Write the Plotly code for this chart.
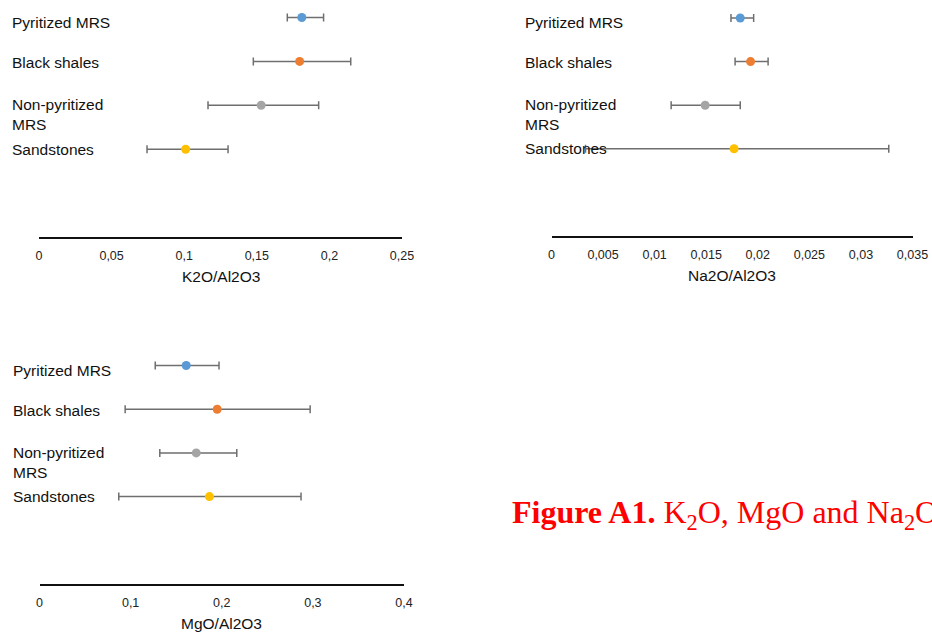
import plotly.graph_objects as go

# ---------------- data ----------------
categories = ["Pyritized MRS", "Black shales", "Non-pyritized MRS", "Sandstones"]
label_text = ["Pyritized MRS", "Black shales", "Non-pyritized<br>MRS", "Sandstones"]
colors = ["#5B9BD5", "#ED7D31", "#A5A5A5", "#FFC000"]

k_mean = [0.181, 0.1795, 0.153, 0.101]
k_low = [0.171, 0.1476, 0.1164, 0.0744]
k_high = [0.196, 0.2147, 0.1926, 0.1302]

na_mean = [0.0183, 0.0193, 0.0149, 0.0177]
na_low = [0.0174, 0.0178, 0.0116, 0.0033]
na_high = [0.0196, 0.0210, 0.0183, 0.0327]

mg_mean = [0.161, 0.195, 0.172, 0.1865]
mg_low = [0.127, 0.094, 0.132, 0.087]
mg_high = [0.197, 0.297, 0.2165, 0.287]

W, H = 932, 632
def px(x):
    return x / W
def py(y):
    return 1 - y / H

FONT = "Liberation Sans, Arial, sans-serif"
rows = {c: len(categories) + 1 - i for i, c in enumerate(categories)}

panels = [
    dict(mean=k_mean, low=k_low, high=k_high, xa="x", ya="y", title="K2O/Al2O3",
         xr=[0, 0.25], dtick=0.05, xd=(39, 402), yd=(237, 0), ppu=43.9, lx=10),
    dict(mean=na_mean, low=na_low, high=na_high, xa="x2", ya="y2", title="Na2O/Al2O3",
         xr=[0, 0.035], dtick=0.005, xd=(551.5, 912.5), yd=(236, 0), ppu=43.6, lx=523),
    dict(mean=mg_mean, low=mg_low, high=mg_high, xa="x3", ya="y3", title="MgO/Al2O3",
         xr=[0, 0.4], dtick=0.1, xd=(39.5, 404), yd=(584, 340), ppu=43.7, lx=11),
]

label_yshift = [-4.5, -1, -9.5, 0]

fig = go.Figure()
annotations = []
layout = {}
for p in panels:
    for i, c in enumerate(categories):
        fig.add_trace(go.Scatter(
            x=[p["mean"][i]], y=[rows[c]], mode="markers",
            marker=dict(color=colors[i], size=9, line=dict(width=0)),
            error_x=dict(type="data", symmetric=False,
                         array=[p["high"][i] - p["mean"][i]],
                         arrayminus=[p["mean"][i] - p["low"][i]],
                         color="#6f6f6f", thickness=1.5, width=4),
            xaxis=p["xa"], yaxis=p["ya"], showlegend=False, hoverinfo="x+y",
        ))
        annotations.append(dict(
            x=px(p["lx"]), xref="paper", xanchor="left",
            y=rows[c], yref=p["ya"], yanchor="middle", yshift=label_yshift[i],
            text=label_text[i], showarrow=False, align="left",
            font=dict(family=FONT, size=15.5, color="#111"),
        ))
    xkey = "xaxis" if p["xa"] == "x" else "xaxis" + p["xa"][1:]
    ykey = "yaxis" if p["ya"] == "y" else "yaxis" + p["ya"][1:]
    eps = (p["xr"][1] - p["xr"][0]) * 1e-6
    layout[xkey] = dict(
        domain=[px(p["xd"][0]), px(p["xd"][1])], anchor=p["ya"], automargin=False,
        range=[p["xr"][0] - eps, p["xr"][1] + eps], dtick=p["dtick"], tick0=0,
        showline=True, linecolor="#111", linewidth=1.6, showgrid=False, zeroline=False,
        ticks="", ticklabelstandoff=6,
        tickfont=dict(family=FONT, size=12.5, color="#222"),
    )
    ytop = (p["yd"][0] - p["yd"][1]) / p["ppu"]
    layout[ykey] = dict(
        domain=[py(p["yd"][0]), py(p["yd"][1])], anchor=p["xa"], automargin=False,
        range=[0, ytop], visible=False, showgrid=False, zeroline=False,
    )
    annotations.append(dict(
        x=px((p["xd"][0] + p["xd"][1]) / 2), xref="paper", xanchor="center",
        y=py(p["yd"][0] + 39), yref="paper", yanchor="middle",
        text=p["title"], showarrow=False,
        font=dict(family=FONT, size=15.5, color="#111"),
    ))

annotations.append(dict(
    x=px(510), xref="paper", xanchor="left",
    y=py(514), yref="paper", yanchor="middle",
    text="<b>Figure A1.</b> K<sub>2</sub>O, MgO and Na<sub>2</sub>O",
    showarrow=False,
    font=dict(family="Liberation Serif, Times New Roman, serif", size=32, color="#FF0000"),
))

fig.update_layout(
    width=W, height=H, margin=dict(l=0, r=0, t=0, b=0, autoexpand=False), autosize=False,
    paper_bgcolor="white", plot_bgcolor="white",
    separators=", ",
    annotations=annotations,
    **layout,
)
fig.write_html("out.html")
